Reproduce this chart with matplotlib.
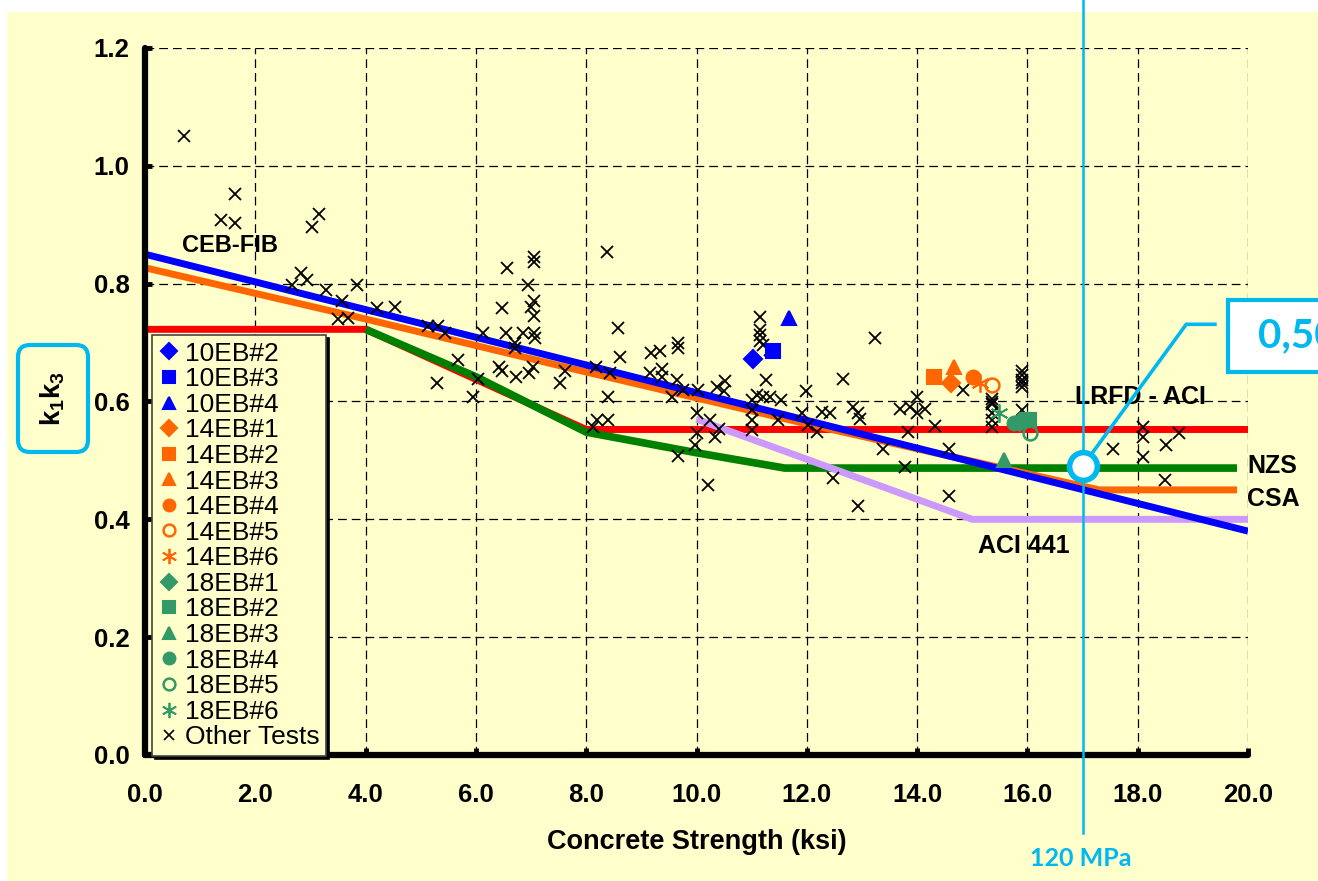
import numpy as np
import matplotlib
matplotlib.use("Agg")
import matplotlib.pyplot as plt
from matplotlib.lines import Line2D
from matplotlib.patches import Rectangle, FancyBboxPatch

plt.rcParams.update({
    "font.family": ["Liberation Sans", "DejaVu Sans"],
    "mathtext.fontset": "custom",
    "mathtext.bf": "Liberation Sans:bold",
    "mathtext.rm": "Liberation Sans",
})

W, H = 1318, 881
BG = "#FFFFCC"
CYAN = "#00B8F0"

# ---- design code curves (k1k3 vs f'c, ksi) ---------------------------------
ceb_x = [0.0, 20.0]
ceb_y = [0.85, 0.38]
csa_x = [0.0, 4.0, 8.0, 12.0, 17.3, 19.8]
csa_y = [0.827, 0.740, 0.650, 0.562, 0.450, 0.450]
lrfd_x = [0.0, 4.0, 8.0, 20.0]
lrfd_y = [0.7225, 0.7225, 0.5525, 0.5525]
nzs_x = [4.0, 6.0, 8.0, 10.0, 11.6, 19.8]
nzs_y = [0.7225, 0.642, 0.548, 0.513, 0.487, 0.487]
aci441_x = [10.0, 15.0, 20.0]
aci441_y = [0.570, 0.400, 0.400]

# ---- this study's specimens ------------------------------------------------
test_labels = ["10EB#2", "10EB#3", "10EB#4", "14EB#1", "14EB#2", "14EB#3",
               "14EB#4", "14EB#5", "14EB#6", "18EB#1", "18EB#2", "18EB#3",
               "18EB#4", "18EB#5", "18EB#6"]
test_x = [11.02, 11.39, 11.68, 14.61, 14.31, 14.67, 15.02, 15.35, 15.14,
          15.87, 16.02, 15.58, 15.75, 16.04, 15.49]
test_y = [0.672, 0.686, 0.741, 0.632, 0.642, 0.658, 0.641, 0.628, 0.631,
          0.566, 0.569, 0.501, 0.563, 0.546, 0.580]
BLUE, ORANGE, GREEN = "#0000FF", "#FF6600", "#339966"
STAR = (6, 2, 0)
test_style = [("D", BLUE, True), ("s", BLUE, True), ("^", BLUE, True),
              ("D", ORANGE, True), ("s", ORANGE, True), ("^", ORANGE, True),
              ("o", ORANGE, True), ("o", ORANGE, False), (STAR, ORANGE, True),
              ("D", GREEN, True), ("s", GREEN, True), ("^", GREEN, True),
              ("o", GREEN, True), ("o", GREEN, False), (STAR, GREEN, True)]

# ---- other tests from the literature ---------------------------------------
other_x = [0.71, 1.63, 1.37, 1.63, 3.16, 3.02, 2.83, 2.66, 2.93, 3.28, 3.57,
           3.85, 3.50, 3.68, 4.20, 4.53, 5.13, 5.31, 5.44, 6.56, 6.47, 6.95,
           7.05, 7.05, 7.00, 7.05, 7.05, 6.13, 6.54, 6.85, 7.05, 7.07, 5.30,
           8.37, 6.71, 6.71, 6.41, 6.47, 6.73, 6.97, 7.04, 7.52, 7.62, 8.57,
           8.61, 8.18, 8.43, 8.39, 8.13, 8.19, 8.40, 9.17, 9.34, 9.66, 9.66,
           9.16, 9.37, 9.37, 9.64, 9.55, 9.76, 10.03, 10.37, 10.52, 10.49,
           10.00, 10.24, 10.40, 10.34, 10.00, 9.97, 9.66, 10.21, 11.15, 11.15,
           11.15, 11.15, 11.20, 11.33, 11.26, 11.09, 11.21, 11.33, 11.54,
           11.00, 11.00, 11.00, 11.00, 11.48, 11.99, 11.91, 12.03, 12.18,
           12.27, 12.42, 12.66, 12.84, 12.93, 12.96, 13.24, 12.48, 12.93,
           5.68, 6.04, 5.95, 13.69, 13.87, 13.99, 13.99, 14.14, 13.84, 14.32,
           13.38, 14.57, 13.78, 14.57, 14.84, 15.35, 15.35, 15.35, 15.35,
           15.35, 15.35, 15.90, 15.90, 15.90, 15.90, 15.90, 15.90, 17.56,
           18.10, 18.10, 18.09, 18.51, 18.75, 18.50]
other_y = [1.050, 0.952, 0.908, 0.903, 0.918, 0.897, 0.818, 0.798, 0.806,
           0.789, 0.770, 0.798, 0.740, 0.742, 0.759, 0.760, 0.728, 0.728,
           0.716, 0.827, 0.759, 0.798, 0.845, 0.837, 0.760, 0.770, 0.745,
           0.716, 0.716, 0.716, 0.716, 0.708, 0.631, 0.853, 0.690, 0.699,
           0.659, 0.651, 0.642, 0.649, 0.658, 0.631, 0.651, 0.725, 0.676,
           0.659, 0.649, 0.608, 0.557, 0.569, 0.569, 0.682, 0.685, 0.699,
           0.690, 0.649, 0.655, 0.642, 0.637, 0.608, 0.620, 0.620, 0.625,
           0.634, 0.617, 0.580, 0.569, 0.554, 0.540, 0.546, 0.526, 0.508,
           0.458, 0.744, 0.722, 0.713, 0.702, 0.696, 0.688, 0.637, 0.611,
           0.608, 0.608, 0.603, 0.603, 0.586, 0.569, 0.552, 0.569, 0.618,
           0.580, 0.560, 0.549, 0.583, 0.580, 0.638, 0.591, 0.580, 0.571,
           0.707, 0.470, 0.422, 0.671, 0.639, 0.608, 0.588, 0.591, 0.608,
           0.580, 0.588, 0.549, 0.558, 0.519, 0.519, 0.488, 0.439, 0.620,
           0.605, 0.600, 0.595, 0.580, 0.569, 0.557, 0.651, 0.645, 0.637,
           0.632, 0.625, 0.586, 0.520, 0.557, 0.540, 0.506, 0.526, 0.546,
           0.467]

# ---- highlighted point: 120 MPa -------------------------------------------
mark_x = 17.0
mark_y = 0.49
mark_text = "0,50"

xticks = np.arange(0, 20.01, 2.0)
yticks = np.arange(0, 1.201, 0.2)

fig = plt.figure(figsize=(W / 100, H / 100), dpi=100)
fig.patch.set_facecolor("white")
fig.patches.append(Rectangle((7 / W, 0), 1, (H - 12) / H, transform=fig.transFigure,
                             facecolor=BG, edgecolor="none", zorder=-10))

ax = fig.add_axes([145 / W, 1 - 755 / H, 1103 / W, 707 / H])
ax.set_facecolor("none")
ax.set_xlim(0, 20)
ax.set_ylim(0, 1.2)
ax.set_xticks(xticks)
ax.set_xticklabels([f"{v:.1f}" for v in xticks])
ax.set_yticks(yticks)
ax.set_yticklabels([f"{v:.1f}" for v in yticks])
for lab in ax.get_xticklabels() + ax.get_yticklabels():
    lab.set_fontweight("bold")
    lab.set_fontsize(18.5)
ax.tick_params(axis="x", direction="in", length=5, width=3.5, pad=20)
ax.tick_params(axis="y", direction="in", length=5, width=3.5, pad=11)
for s in ("top", "right"):
    ax.spines[s].set_visible(False)
for s in ("left", "bottom"):
    ax.spines[s].set_linewidth(4.5)
    ax.spines[s].set_capstyle("round")
ax.grid(True, color="black", lw=0.9, linestyle=(0, (7, 4)))
ax.set_axisbelow(True)

# design curves
ax.plot(lrfd_x, lrfd_y, color="#FF0000", lw=5, solid_capstyle="butt", zorder=2)
ax.plot(nzs_x, nzs_y, color="#008000", lw=5.5, solid_capstyle="butt", zorder=2.1)
ax.plot(aci441_x, aci441_y, color="#CC99FF", lw=5, solid_capstyle="butt", zorder=2.2)
ax.plot(csa_x, csa_y, color="#FF6600", lw=5, solid_capstyle="butt", zorder=2.3)
ax.plot(ceb_x, ceb_y, color="#0000FF", lw=5, solid_capstyle="butt", zorder=2.4)

lab_kw = dict(fontsize=18, fontweight="bold", va="center", ha="left", zorder=6)
ax.text(0.67, 0.864, "CEB-FIB", **{**lab_kw, "fontsize": 17})
ax.text(16.86, 0.608, "LRFD - ACI", **lab_kw)
ax.text(19.98, 0.491, "NZS", clip_on=False, **lab_kw)
ax.text(19.98, 0.435, "CSA", clip_on=False, **lab_kw)
ax.text(15.10, 0.355, "ACI 441", **lab_kw)

# points
ax.plot(other_x, other_y, ls="none", marker="x", ms=8.5, mew=1.3, color="black", zorder=4)
handles = []
for lab, x, y, (m, c, filled) in zip(test_labels, test_x, test_y, test_style):
    star = m == STAR
    kw = dict(marker=m, color=c, mec=c, mfc=c if filled else "none",
              mew=1.3 if star else (1.5 if filled else 1.8), ls="none")
    size = 13 if star else (10 if m in ("s", "^", "o") else 9)
    ax.plot([x], [y], ms=size, zorder=5, **kw)
    handles.append(Line2D([], [], ms=11 if star else 8.5, label=lab, **kw))
handles.append(Line2D([], [], marker="x", ls="none", color="black", ms=7.5,
                      mew=1.2, label="Other Tests"))
leg = ax.legend(handles=handles, loc="upper left", bbox_to_anchor=(0.0063, 0.594),
                fontsize=19, frameon=True, fancybox=False, facecolor=BG,
                edgecolor="#444444", framealpha=1, borderpad=0.25,
                labelspacing=0.06, handlelength=0.8, handletextpad=0.2,
                borderaxespad=0, shadow={"color": "black", "alpha": 1})
leg.get_frame().set_linewidth(1.2)
leg.set_zorder(7)

ax.set_xlabel("Concrete Strength (ksi)", fontsize=19.5, fontweight="bold", labelpad=16)

# 120 MPa annotation
ax.plot([mark_x, mark_x], [-0.132, 1.30], color=CYAN, lw=1.8, clip_on=False, zorder=9)
ax.plot([mark_x, 18.88, 19.40], [mark_y, 0.731, 0.731], color=CYAN, lw=2.6,
        clip_on=False, zorder=10)
ax.plot([mark_x], [mark_y], marker="o", ms=20, mfc="white", mec=CYAN, mew=4,
        zorder=11)
fig.patches.append(Rectangle((12.28, 5.09), 2.0, 0.72, transform=fig.dpi_scale_trans,
                             facecolor="white", edgecolor=CYAN, lw=3, zorder=12))
fig.text(12.58 / (W / 100), 5.45 / (H / 100), mark_text, color=CYAN, fontsize=29,
         fontweight="bold", family=["Lato", "DejaVu Sans"], va="center", ha="left",
         zorder=13)
fig.text(1081 / W, 1 - 858 / H, "120 MPa", color=CYAN, fontsize=18,
         fontweight="bold", family=["Lato", "DejaVu Sans"], ha="center", va="center")

# y label in rounded box
fig.patches.append(FancyBboxPatch((0.18, (H - 452) / 100), 0.70, 1.07,
                                  boxstyle="round,pad=0,rounding_size=0.12",
                                  transform=fig.dpi_scale_trans, facecolor="none",
                                  edgecolor=CYAN, lw=3, zorder=12))
fig.text(53 / W, 1 - 398 / H, r"$\mathbf{k_1k_3}$", rotation=90, fontsize=20,
         ha="center", va="center")

fig.savefig("out.png", dpi=100)
